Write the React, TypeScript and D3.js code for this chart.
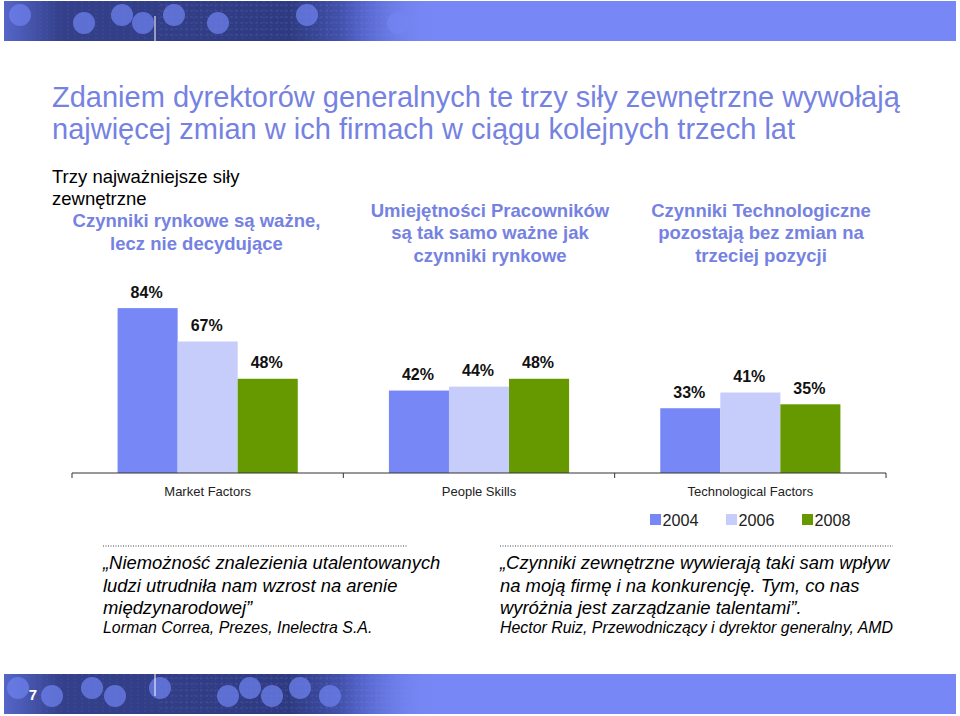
import React from "react";
import * as d3 from "d3";

const categories = ["Market Factors", "People Skills", "Technological Factors"];
const years = ["2004", "2006", "2008"];
const values2004 = [84, 42, 33];
const values2006 = [67, 44, 41];
const values2008 = [48, 48, 35];
const seriesColors = ["#7788F6", "#C6CDFB", "#669900"];

const titleLines = [
  "Zdaniem dyrektorów generalnych te trzy siły zewnętrzne wywołają",
  "najwięcej zmian w ich firmach w ciągu kolejnych trzech lat",
];
const subtitleLines = ["Trzy najważniejsze siły", "zewnętrzne"];
const headerLines = [
  ["Czynniki rynkowe są ważne,", "lecz nie decydujące"],
  ["Umiejętności Pracowników", "są tak samo ważne jak", "czynniki rynkowe"],
  ["Czynniki Technologiczne", "pozostają bez zmian na", "trzeciej pozycji"],
];
const quoteLeft = [
  "„Niemożność znalezienia utalentowanych",
  "ludzi utrudniła nam wzrost na arenie",
  "międzynarodowej”",
];
const quoteLeftAuthor = "Lorman Correa, Prezes, Inelectra S.A.";
const quoteRight = [
  "„Czynniki zewnętrzne wywierają taki sam wpływ",
  "na moją firmę i na konkurencję. Tym, co nas",
  "wyróżnia jest zarządzanie talentami”.",
];
const quoteRightAuthor = "Hector Ruiz, Przewodniczący i dyrektor generalny, AMD";
const pageNumber = "7";

const FONT = "'Liberation Sans', Arial, Helvetica, sans-serif";
const TITLE_BLUE = "#7582E2";

const bannerCirclesTop = [20, 84, 122, 143, 174, 218, 307, 398];
const bannerCirclesBottom = [18, 52, 92, 115, 160, 228, 250, 272, 300, 330];

function Banner({ y, h, circles, idPrefix }: { y: number; h: number; circles: number[]; idPrefix: string }) {
  const x0 = 4;
  const x1 = 956;
  const gridX = d3.range(40, 400, 7);
  const gridY = d3.range(y + 4, y + h, 6);
  return (
    <g>
      <defs>
        <linearGradient id={idPrefix + "g"} x1="0" x2="1" y1="0" y2="0" gradientUnits="objectBoundingBox">
          <stop offset="0" stopColor="#5566C8" />
          <stop offset="0.06" stopColor="#34408A" />
          <stop offset="0.3" stopColor="#2E3A80" />
          <stop offset="0.38" stopColor="#4C5CC0" />
          <stop offset="0.45" stopColor="#7788F6" />
          <stop offset="1" stopColor="#7788F6" />
        </linearGradient>
        <linearGradient id={idPrefix + "f"} x1="0" x2="1" y1="0" y2="0">
          <stop offset="0" stopColor="#7788F6" stopOpacity="0" />
          <stop offset="1" stopColor="#7788F6" stopOpacity="1" />
        </linearGradient>
        <clipPath id={idPrefix + "c"}>
          <rect x={x0} y={y} width={x1 - x0} height={h} />
        </clipPath>
      </defs>
      <rect x={x0} y={y} width={x1 - x0} height={h} fill={`url(#${idPrefix}g)`} />
      <g clipPath={`url(#${idPrefix}c)`}>
        {gridX.map((gx, i) => (
          <line key={"gx" + i} x1={gx} x2={gx} y1={y} y2={y + h} stroke="#8E9CF0" strokeOpacity={0.25} strokeWidth={0.6} strokeDasharray="2,2" />
        ))}
        {gridY.map((gy, i) => (
          <line key={"gy" + i} x1={160} x2={420} y1={gy} y2={gy} stroke="#9AA6F2" strokeOpacity={0.3} strokeWidth={0.6} strokeDasharray="3,2" />
        ))}
        {circles.map((cx, i) => (
          <circle key={"c" + i} cx={cx} cy={y + h * (i % 2 === 0 ? 0.35 : 0.55)} r={11} fill="#6E80EC" fillOpacity={0.75} />
        ))}
        <rect x={340} y={y} width={100} height={h} fill={`url(#${idPrefix}f)`} />
      </g>
      <line x1={155} x2={155} y1={y + (idPrefix === "top" ? 15 : 0)} y2={y + (idPrefix === "top" ? h : h * 0.55)} stroke="#FFFFFF" strokeWidth={1} />
    </g>
  );
}

export default function App() {
  const width = 960;
  const height = 716;
  const baseY = 473;

  const x0 = d3.scaleBand<string>().domain(categories).range([72, 886]).paddingInner(0.336).paddingOuter(0.168);
  const x1 = d3.scaleBand<string>().domain(years).range([0, x0.bandwidth()]);
  const y = d3.scaleLinear().domain([0, 100]).range([baseY, baseY - 196.3]);

  const outer = d3.scaleBand<string>().domain(categories).range([72, 886]);
  const tickXs = [...categories.map((c) => outer(c) as number), 886];

  const series = [values2004, values2006, values2008];

  const headerCenters = [196.5, 490, 761];

  return (
    <svg width={width} height={height} style={{ position: "absolute", left: 0, top: 0, background: "#fff" }} fontFamily={FONT}>
      <rect x={0} y={0} width={width} height={height} fill="#fff" />
      <Banner y={1} h={40} circles={bannerCirclesTop} idPrefix="top" />
      <Banner y={674} h={40} circles={bannerCirclesBottom} idPrefix="bot" />
      <text x={33} y={700} fill="#fff" fontSize={15} fontWeight="bold" textAnchor="middle">{pageNumber}</text>

      {titleLines.map((t, i) => (
        <text key={"t" + i} x={52} y={107 + i * 31.5} fontSize={29} fill={TITLE_BLUE}>{t}</text>
      ))}
      {subtitleLines.map((t, i) => (
        <text key={"s" + i} x={52} y={183 + i * 21.5} fontSize={18.5} fill="#000">{t}</text>
      ))}
      {headerLines.map((lines, ci) => {
        const start = lines.length === 2 ? 227 : 216.5;
        return lines.map((t, li) => (
          <text key={"h" + ci + li} x={headerCenters[ci]} y={start + li * 22.5} fontSize={18.5} fontWeight="bold" fill={TITLE_BLUE} textAnchor="middle">{t}</text>
        ));
      })}

      {/* bars */}
      {categories.map((c, ci) => (
        <g key={"cat" + c} transform={`translate(${x0(c)},0)`}>
          {years.map((yr, si) => {
            const v = series[si][ci];
            const bx = x1(yr) as number;
            return (
              <g key={yr}>
                <rect x={bx} y={y(v)} width={x1.bandwidth()} height={baseY - y(v)} fill={seriesColors[si]} />
                <text x={bx + x1.bandwidth() / 2 - 1} y={y(v) - 10.5} fontSize={16} fontWeight="bold" textAnchor="middle" fill="#111">{v}%</text>
              </g>
            );
          })}
        </g>
      ))}

      {/* axis */}
      <line x1={72} x2={886} y1={baseY} y2={baseY} stroke="#333" strokeWidth={1} />
      {tickXs.map((tx, i) => (
        <line key={"tk" + i} x1={tx} x2={tx} y1={baseY} y2={baseY + 5} stroke="#333" strokeWidth={1} />
      ))}
      {categories.map((c) => (
        <text key={"cl" + c} x={(x0(c) as number) + x0.bandwidth() / 2} y={496} fontSize={13} textAnchor="middle" fill="#222">{c}</text>
      ))}

      {/* legend */}
      {years.map((yr, i) => {
        const lx = 650 + i * 76;
        return (
          <g key={"lg" + yr}>
            <rect x={lx} y={514} width={11} height={11} fill={seriesColors[i]} />
            <text x={lx + 12.5} y={526} fontSize={16.2} fill="#222">{yr}</text>
          </g>
        );
      })}

      {/* quotes */}
      <line x1={103} x2={408} y1={546} y2={546} stroke="#444" strokeWidth={1} strokeDasharray="1,1.5" />
      <line x1={500} x2={893} y1={546} y2={546} stroke="#444" strokeWidth={1} strokeDasharray="1,1.5" />
      {quoteLeft.map((t, i) => (
        <text key={"ql" + i} x={103} y={569 + i * 22.5} fontSize={18.4} fontStyle="italic" fill="#000">{t}</text>
      ))}
      <text x={103} y={633} fontSize={15.9} fontStyle="italic" fill="#000">{quoteLeftAuthor}</text>
      {quoteRight.map((t, i) => (
        <text key={"qr" + i} x={500} y={569 + i * 22.5} fontSize={18.4} fontStyle="italic" fill="#000">{t}</text>
      ))}
      <text x={500} y={633} fontSize={15.9} fontStyle="italic" fill="#000">{quoteRightAuthor}</text>
    </svg>
  );
}
